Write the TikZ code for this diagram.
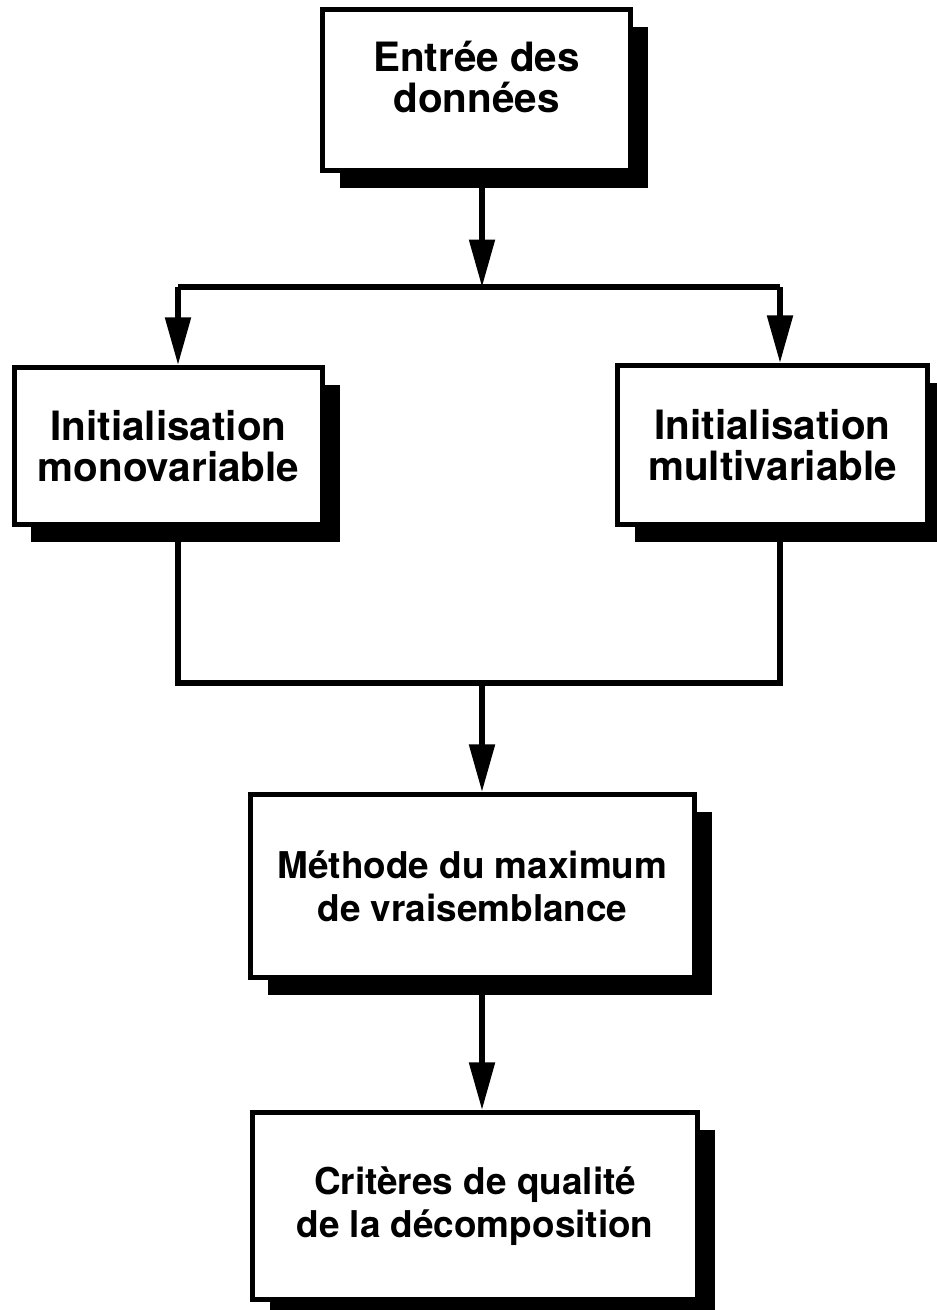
\documentclass[tikz,border=0pt]{standalone}
\usepackage{fontspec}
\setmainfont{TeX Gyre Heros}
\usetikzlibrary{arrows.meta,shadows}
\tikzset{box/.style={draw, fill=white, line width=3pt, align=center, inner sep=0pt,
                     font=\bfseries\fontsize{23}{23.5}\selectfont,
                     drop shadow={shadow xshift=0.34cm, shadow yshift=-0.34cm, opacity=1, fill=black}},
         bigbox/.style={box, font=\bfseries\fontsize{21}{24.5}\selectfont},
         link/.style={line width=3pt},
         flow/.style={link, -{Triangle[length=0.95cm,width=0.5cm]}}}

\begin{document}
\begin{tikzpicture}
  \useasboundingbox (0,0) rectangle (18.72,-26.2);
  \node[box, minimum width=6.16cm, minimum height=3.22cm] (entree) at (9.53,-1.80) {Entrée des\\données\\[-0.3cm]};
  \node[box, minimum width=6.16cm, minimum height=3.14cm] (mono)   at (3.37,-8.92) {Initialisation\\monovariable};
  \node[box, minimum width=6.20cm, minimum height=3.18cm] (multi)  at (15.45,-8.90) {Initialisation\\multivariable};
  \node[bigbox, minimum width=8.88cm, minimum height=3.66cm] (vraisemb) at (9.45,-17.72) {Méthode du maximum\\de vraisemblance};
  \node[bigbox, minimum width=8.90cm, minimum height=3.74cm] (criteres) at (9.50,-24.12) {Critères de qualité\\de la décomposition};
  \coordinate (split)  at (9.64,-5.74);
  \coordinate (splitL) at (3.56,-5.74);
  \coordinate (splitR) at (15.60,-5.74);
  \coordinate (join)   at (9.64,-13.66);
  \coordinate (joinL)  at (3.56,-13.66);
  \coordinate (joinR)  at (15.60,-13.66);
  \draw[flow] (entree.south -| split) -- (split);
  \draw[link] (splitL) -- (splitR);
  \draw[flow] (splitL) -- (splitL |- mono.north);
  \draw[flow] (splitR) -- (splitR |- multi.north);
  \draw[link] (mono.south -| joinL) -- (joinL) -- (joinR) -- (multi.south -| joinR);
  \draw[flow] (join) -- (join |- vraisemb.north);
  \draw[flow] (vraisemb.south -| join) -- (join |- criteres.north);
\end{tikzpicture}
\end{document}
